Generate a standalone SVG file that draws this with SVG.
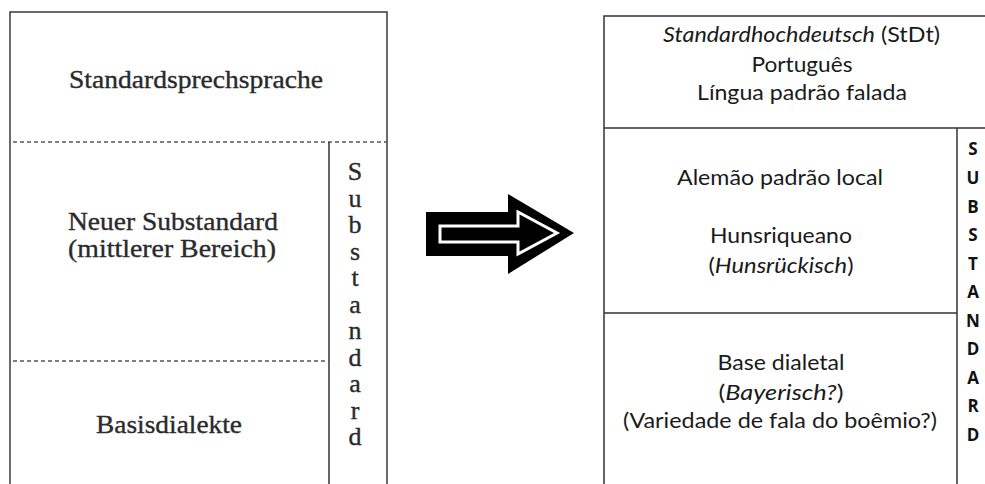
<svg xmlns="http://www.w3.org/2000/svg" width="985" height="484" viewBox="0 0 985 484">
<style>
.frame{fill:none;stroke:#3a3a3a;stroke-width:1.5}
.dash{stroke:#555;stroke-width:1.6;stroke-dasharray:4 3;fill:none}
.line{stroke:#333;stroke-width:1.5;fill:none}
.serif{font-family:"Liberation Serif","Times New Roman",serif;fill:#2a2a2a;stroke:#2a2a2a;stroke-width:0.35;text-anchor:middle}
.sans{font-family:Lato,"Open Sans","Liberation Sans",sans-serif;fill:#1a1a1a;text-anchor:middle;font-size:22px}
.vbold{font-family:"Open Sans","Liberation Sans",sans-serif;font-weight:bold;fill:#111;text-anchor:middle;font-size:17px}
</style>
<rect width="985" height="484" fill="#fff"/>
<g id="left-diagram">
  <path class="frame" d="M10,484 V12 H387 V484"/>
  <line class="dash" x1="13" y1="142" x2="387" y2="142"/>
  <line class="line" x1="329" y1="142" x2="329" y2="484"/>
  <line class="dash" x1="13" y1="361" x2="329" y2="361"/>
  <text class="serif" x="196" y="88" font-size="25" textLength="254" lengthAdjust="spacingAndGlyphs">Standardsprechsprache</text>
  <text class="serif" x="173" y="230" font-size="26" textLength="210" lengthAdjust="spacingAndGlyphs">Neuer Substandard</text>
  <text class="serif" x="172" y="257" font-size="26" textLength="208" lengthAdjust="spacingAndGlyphs">(mittlerer Bereich)</text>
  <text class="serif" x="169" y="433" font-size="26" textLength="146" lengthAdjust="spacingAndGlyphs">Basisdialekte</text>
  <g class="serif" font-size="26">
    <text x="355" y="180">S</text>
    <text x="355" y="206.5">u</text>
    <text x="355" y="233">b</text>
    <text x="355" y="259.5">s</text>
    <text x="355" y="286">t</text>
    <text x="355" y="312.5">a</text>
    <text x="355" y="339">n</text>
    <text x="355" y="365.5">d</text>
    <text x="355" y="392">a</text>
    <text x="355" y="418.5">r</text>
    <text x="355" y="445">d</text>
  </g>
</g>
<g id="arrow">
  <polygon points="426,212 508,212 508,194 574,233 508,274 508,256 426,256" fill="#000"/>
  <polygon points="440,226 518,226 518,212 557,233 518,254 518,242 440,242" fill="#000" stroke="#fff" stroke-width="3"/>
</g>
<g id="right-diagram">
  <path class="line" d="M604,484 V16 H985"/>
  <line class="line" x1="604" y1="128" x2="985" y2="128"/>
  <line class="line" x1="957" y1="128" x2="957" y2="484"/>
  <line class="line" x1="604" y1="313" x2="957" y2="313"/>
  <text class="sans" x="801.5" y="42" textLength="277" lengthAdjust="spacingAndGlyphs"><tspan font-style="italic">Standardhochdeutsch</tspan> (StDt)</text>
  <text class="sans" x="802" y="72" textLength="101" lengthAdjust="spacingAndGlyphs">Português</text>
  <text class="sans" x="802" y="100" textLength="210" lengthAdjust="spacingAndGlyphs">Língua padrão falada</text>
  <text class="sans" x="780" y="185" textLength="206" lengthAdjust="spacingAndGlyphs">Alemão padrão local</text>
  <text class="sans" x="781" y="243" textLength="142" lengthAdjust="spacingAndGlyphs">Hunsriqueano</text>
  <text class="sans" x="781" y="273" textLength="145" lengthAdjust="spacingAndGlyphs">(<tspan font-style="italic">Hunsrückisch</tspan>)</text>
  <text class="sans" x="781" y="370" textLength="127" lengthAdjust="spacingAndGlyphs">Base dialetal</text>
  <text class="sans" x="781" y="400" textLength="125" lengthAdjust="spacingAndGlyphs">(<tspan font-style="italic">Bayerisch?</tspan>)</text>
  <text class="sans" x="780" y="428" textLength="314" lengthAdjust="spacingAndGlyphs">(Variedade de fala do boêmio?)</text>
  <g class="vbold">
    <text x="973" y="155">S</text>
    <text x="973" y="184">U</text>
    <text x="973" y="213">B</text>
    <text x="973" y="241">S</text>
    <text x="973" y="270">T</text>
    <text x="973" y="298">A</text>
    <text x="973" y="327">N</text>
    <text x="973" y="355">D</text>
    <text x="973" y="384">A</text>
    <text x="973" y="412">R</text>
    <text x="973" y="441">D</text>
  </g>
</g>
</svg>
